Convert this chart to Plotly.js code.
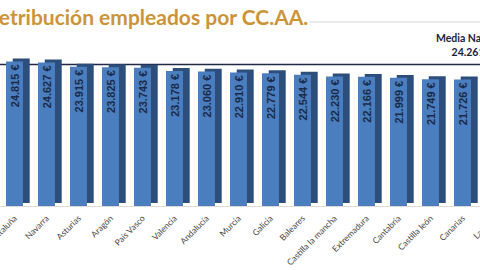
<!DOCTYPE html>
<html>
<head>
<meta charset="utf-8">
<script src="https://cdn.plot.ly/plotly-3.0.1.min.js"></script>
<style>
  html, body { margin: 0; padding: 0; width: 480px; height: 270px; overflow: hidden; background: #ffffff; }
  #chart { position: absolute; left: -20px; top: 0; width: 520px; height: 270px; }
</style>
</head>
<body>
<div id="chart"></div>
<script>
// Data read from the (cropped) reference picture
const categories = ["Cataluña", "Navarra", "Asturias", "Aragón", "País Vasco", "Valencia", "Andalucía", "Murcia",
                    "Galicia", "Baleares", "Castilla la mancha", "Extremadura", "Cantabria", "Castilla león", "Canarias", "La Rioja"];
const salaries = [24815, 24627, 23915, 23825, 23743, 23178, 23060, 22910,
                  22779, 22544, 22230, 22166, 21999, 21749, 21726, null];
const mediaNacional = 24261;
const titleText = "Retribución empleados por CC.AA.";
const mediaLabel = "Media Nacional";

function fmtEuro(v) {
  if (v === null) return "";
  const s = String(Math.round(v));
  return s.replace(/\B(?=(\d{3})+(?!\d))/g, ".") + " €";
}
const labels = salaries.map(fmtEuro);

const depth = 500; // vertical offset of the 3D back face (in axis units)

const sideTrace = {
  type: "bar",
  x: categories,
  y: salaries,
  base: depth,
  width: 0.53,
  offset: -0.265 + 0.21,
  marker: { color: "#2d4d7a", line: { width: 0 } },
  hoverinfo: "skip",
  showlegend: false
};

const frontTrace = {
  type: "bar",
  x: categories,
  y: salaries,
  width: 0.53,
  offset: -0.265,
  marker: { color: "#4a7ebe", line: { width: 0 } },
  text: labels,
  textposition: "inside",
  insidetextanchor: "end",
  textangle: -90,
  constraintext: "none",
  textfont: { family: "Liberation Sans Narrow, Arial Narrow, Liberation Sans, sans-serif", size: 11, color: "#1b2a4a", weight: "bold" },
  hoverinfo: "skip",
  showlegend: false
};

const plotTop = 55, plotBottom = 206;
const plotH = plotBottom - plotTop;
function pyPaper(px) { return (plotBottom - px) / plotH; }

const layout = {
  width: 520,
  height: 270,
  margin: { l: 20, r: 0, t: plotTop, b: 270 - plotBottom, pad: 0 },
  paper_bgcolor: "#ffffff",
  plot_bgcolor: "#ffffff",
  barmode: "overlay",
  title: {
    text: "<b>" + titleText + "</b>",
    xref: "container", x: 6 / 520, xanchor: "left",
    yref: "container", y: 1 - 18 / 270, yanchor: "middle",
    font: { family: "Lato, Open Sans, sans-serif", size: 21, color: "#cc9338" }
  },
  xaxis: {
    type: "category",
    range: [-0.453, 15.172],
    tickangle: -45,
    ticklabelstandoff: 3,
    tickfont: { family: "Lato, sans-serif", size: 8.5, color: "#454545" },
    showline: true, linecolor: "#d9d9d9", linewidth: 1,
    ticks: "", showgrid: false, zeroline: false,
    automargin: false,
    fixedrange: true
  },
  yaxis: {
    range: [0, 25912],
    visible: false,
    showgrid: false, zeroline: false,
    fixedrange: true
  },
  shapes: [
    { type: "line", xref: "paper", yref: "y", x0: 0, x1: 1, y0: mediaNacional, y1: mediaNacional,
      line: { color: "#1f2a44", width: 1.5 }, layer: "below" },
    { type: "line", xref: "paper", yref: "paper", x0: 310 / 500, x1: 1, y0: pyPaper(22), y1: pyPaper(22),
      line: { color: "#d4d4d4", width: 1 } }
  ],
  annotations: [
    { xref: "paper", yref: "paper", x: 472 / 500, y: pyPaper(45), xanchor: "center", yanchor: "middle",
      text: "<b>" + mediaLabel + "</b><br><b>" + fmtEuro(mediaNacional) + "</b>",
      showarrow: false, align: "center",
      font: { family: "Lato, sans-serif", size: 10.5, color: "#1b2338" } }
  ]
};

Plotly.newPlot("chart", [sideTrace, frontTrace], layout, { staticPlot: true, displayModeBar: false });
</script>
</body>
</html>
